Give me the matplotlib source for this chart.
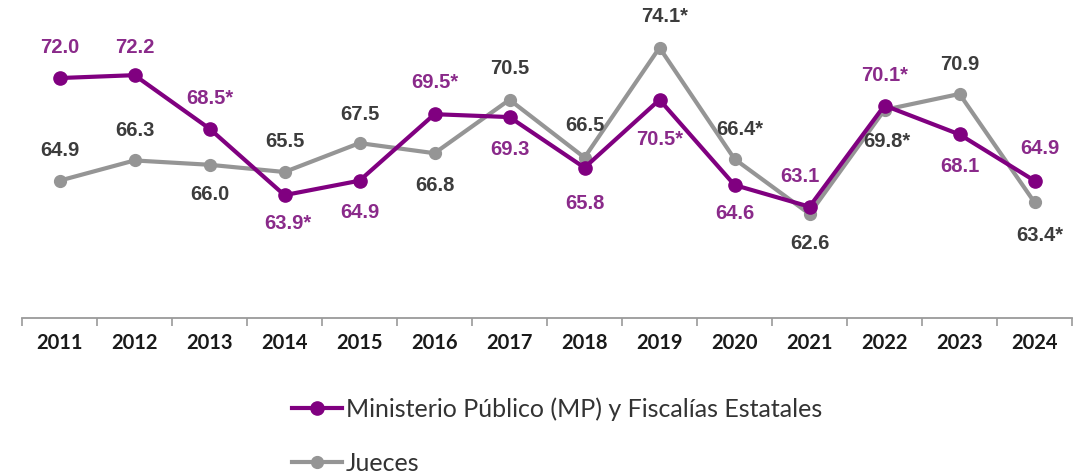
import matplotlib
matplotlib.use("Agg")
import matplotlib.pyplot as plt
from matplotlib.lines import Line2D

years = ["2011", "2012", "2013", "2014", "2015", "2016", "2017", "2018", "2019",
         "2020", "2021", "2022", "2023", "2024"]
mp_values = [72.0, 72.2, 68.5, 63.9, 64.9, 69.5, 69.3, 65.8, 70.5, 64.6, 63.1, 70.1, 68.1, 64.9]
mp_labels = ["72.0", "72.2", "68.5*", "63.9*", "64.9", "69.5*", "69.3", "65.8", "70.5*",
             "64.6", "63.1", "70.1*", "68.1", "64.9"]
jueces_values = [64.9, 66.3, 66.0, 65.5, 67.5, 66.8, 70.5, 66.5, 74.1, 66.4, 62.6, 69.8, 70.9, 63.4]
jueces_labels = ["64.9", "66.3", "66.0", "65.5", "67.5", "66.8", "70.5", "66.5", "74.1*",
                 "66.4*", "62.6", "69.8*", "70.9", "63.4*"]
series_names = ["Ministerio Público (MP) y Fiscalías Estatales", "Jueces"]

# label offsets in pixels (dx, dy), positive dy = up
mp_off = [(0, 31), (0, 28), (0, 30), (3, -28), (0, -32), (0, 32), (0, -32), (0, -36),
          (0, -40), (0, -28), (-10, 30), (0, 30), (0, -32), (5, 32)]
ju_off = [(0, 30), (0, 30), (0, -30), (0, 31), (0, 29), (0, -32), (0, 31), (0, 32),
          (5, 31), (5, 30), (0, -30), (2, -32), (0, 29), (5, -33)]

PURPLE = "#800080"
PURPLE_TXT = "#8A2A8A"
GRAY = "#959595"
GRAY_TXT = "#3C3C3C"

fig = plt.figure(figsize=(10.87, 4.73), dpi=100)
ax = fig.add_axes([22 / 1087, (473 - 318) / 473, 1050 / 1087, 318 / 473])
x = list(range(len(years)))

ax.plot(x, jueces_values, color=GRAY, lw=3.0, marker="o", ms=8.5, zorder=2, clip_on=False)
ax.plot(x, mp_values, color=PURPLE, lw=3.0, marker="o", ms=9.5, zorder=3, clip_on=False)

pt = 72 / 100.0
for xi, v, lab, (dx, dy) in zip(x, mp_values, mp_labels, mp_off):
    ax.annotate(lab, (xi, v), xytext=(dx * pt, dy * pt), textcoords="offset points",
                ha="center", va="center", color=PURPLE_TXT, fontsize=14.5,
                fontweight="bold", family="Liberation Sans", zorder=5)
for xi, v, lab, (dx, dy) in zip(x, jueces_values, jueces_labels, ju_off):
    ax.annotate(lab, (xi, v), xytext=(dx * pt, dy * pt), textcoords="offset points",
                ha="center", va="center", color=GRAY_TXT, fontsize=14.5,
                fontweight="bold", family="Liberation Sans", zorder=5)

ax.set_xlim(-0.5, len(years) - 0.5)
ax.set_ylim(55.4, 77.4)
for s in ["top", "right", "left"]:
    ax.spines[s].set_visible(False)
ax.spines["bottom"].set_color("#9A9A9A")
ax.spines["bottom"].set_linewidth(1.3)
ax.set_yticks([])
ax.set_xticks([i - 0.5 for i in range(len(years) + 1)])
ax.set_xticklabels([])
ax.set_xticks(x, minor=True)
ax.set_xticklabels(years, minor=True, fontsize=14.5, fontweight="bold", family="Lato",
                   color="#1A1A1A")
ax.tick_params(axis="x", which="major", length=6, width=1.2, color="#9A9A9A", direction="out")
ax.tick_params(axis="x", which="minor", length=0, pad=11)

handles = [Line2D([], [], color=PURPLE, lw=3.0, marker="o", ms=9.5),
           Line2D([], [], color=GRAY, lw=3.0, marker="o", ms=8.5)]
leg = fig.legend(handles, series_names, loc="upper left", bbox_to_anchor=(292 / 1087, 1 - 397 / 473),
                 frameon=False, prop={"family": "Lato", "size": 18}, handlelength=2.0,
                 handletextpad=0.15, labelspacing=1.25, borderaxespad=0, borderpad=0)
for t in leg.get_texts():
    t.set_color("#333333")

fig.savefig("out.png", dpi=100)
